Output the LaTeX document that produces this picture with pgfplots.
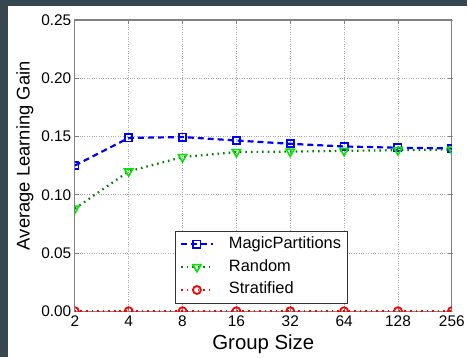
\documentclass[border=0pt]{standalone}
\usepackage{fontspec}
\setmainfont{Liberation Sans}
\usepackage{pgfplots}
\pgfplotsset{compat=1.18}
\definecolor{bgdark}{RGB}{55,71,79}
\definecolor{framegray}{RGB}{128,128,128}
\definecolor{gridgray}{RGB}{170,170,170}
\definecolor{lgreen}{RGB}{0,230,0}
\definecolor{dgreen}{RGB}{0,128,0}
\begin{document}
\begin{tikzpicture}
\fill[white] (-75bp,-46bp) rectangle (393bp,312bp);
\fill[bgdark] (-75bp,-46bp) rectangle (-67bp,312bp);
\fill[bgdark] (-75bp,306bp) rectangle (393bp,312bp);
\begin{axis}[
  at={(0,0)}, anchor=south west,
  scale only axis, width=378bp, height=292bp,
  xmin=0, xmax=7, ymin=0, ymax=0.25,
  clip marker paths=true,
  xtick={0,1,2,3,4,5,6,7},
  xticklabels={2,4,8,16,32,64,128,256},
  ytick={0,0.05,0.1,0.15,0.2,0.25},
  scaled y ticks=false,
  yticklabel style={/pgf/number format/.cd, fixed, fixed zerofill, precision=2},
  /pgf/number format/assume math mode=true,
  tick label style={font=\fontsize{15.5}{17}\selectfont, text=black},
  xticklabel style={anchor=base, yshift=-15.8bp},
  grid=major,
  major grid style={gridgray, dotted, line width=0.7pt},
  axis line style={framegray, line width=1.3pt},
  tick style={framegray, line width=0.8pt},
  tick align=inside, major tick length=4bp,
  xlabel={Group Size},
  ylabel={Average Learning Gain},
  xlabel style={font=\fontsize{20.5}{22}\selectfont, at={(axis description cs:0.5,-0.1325)}, anchor=base},
  ylabel style={font=\fontsize{18.5}{20}\selectfont, at={(axis description cs:-0.1005,0.534)}, anchor=south},
  legend style={at={(axis description cs:0.267,0.027)}, anchor=south west,
    draw=black!80, line width=0.8pt, fill=white,
    font=\fontsize{16.5}{18}\selectfont,
    inner xsep=4bp, inner ysep=3.5bp, row sep=4bp, column sep=13bp,
    nodes={inner sep=2bp, text height=11.5bp, text depth=3.5bp}},
  legend cell align=left,
  legend image code/.code={\draw[mark repeat=2, mark phase=2] plot coordinates {(0bp,0bp) (16bp,0bp) (32bp,0bp)};},
]
\addplot[blue, line width=2.2bp, dash pattern=on 6bp off 4bp,
  mark=square, mark size=3.6bp, mark options={solid, fill=white, line width=1.8bp}]
  coordinates {(0,0.125) (1,0.1487) (2,0.1495) (3,0.1465) (4,0.1437) (5,0.1414) (6,0.1403) (7,0.1397)};
\addlegendentry{MagicPartitions}
\addplot[dgreen, line width=2.2bp, dash pattern=on 1.6bp off 4bp,
  mark=triangle, mark size=4.8bp, mark options={solid, rotate=180, draw=lgreen, fill=white, line width=1.6bp}]
  coordinates {(0,0.088) (1,0.1200) (2,0.1323) (3,0.1366) (4,0.1370) (5,0.1376) (6,0.1382) (7,0.1388)};
\addlegendentry{Random}
\addplot[red, line width=2.2bp, dash pattern=on 1.6bp off 4bp,
  mark=o, mark size=4bp, mark options={solid, fill=white, line width=1.8bp}]
  coordinates {(0,0) (1,0) (2,0) (3,0) (4,0) (5,0) (6,0) (7,0)};
\addlegendentry{Stratified}
\end{axis}
\end{tikzpicture}
\end{document}
